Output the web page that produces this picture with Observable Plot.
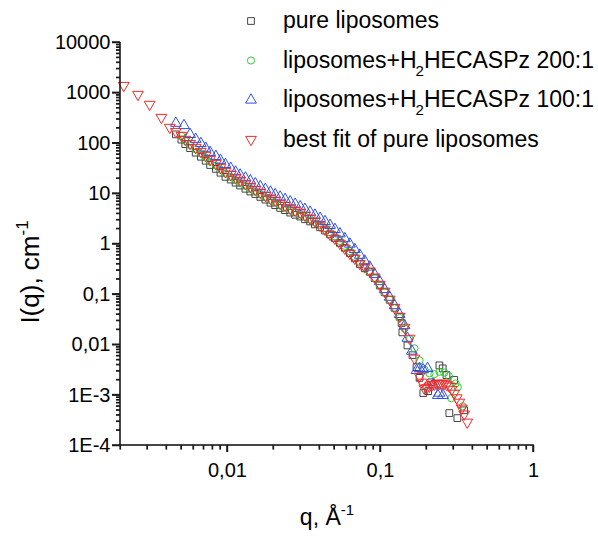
<!DOCTYPE html>
<html><head><meta charset="utf-8">
<script src="https://cdn.jsdelivr.net/npm/d3@7"></script>
<script src="https://cdn.jsdelivr.net/npm/@observablehq/plot@0.6"></script>
<style>body{margin:0;background:#fff;}</style>
</head><body><div id="chart"></div>
<script>
// ---- data ----
const pureQ = [0.0046,0.0050,0.0053,0.0057,0.0062,0.0067,0.0072,0.0077,0.0084,0.0090,0.0097,0.0105,0.0113,0.0121,0.0131,0.0141,0.0152,0.0164,0.0177,0.0191,0.0205,0.0221,0.0238,0.0257,0.0277,0.0299,0.0321,0.0347,0.0373,0.0403,0.0434,0.0468,0.0504,0.0543,0.0585,0.0631,0.0679,0.0733,0.0789,0.0851,0.0916,0.0989,0.1064,0.1148,0.1236,0.1334,0.1374,0.1390,0.1500,0.1620,0.1720,0.1800,0.1905,0.2050,0.2150,0.2427,0.2550,0.2700,0.2818,0.3034,0.3180,0.3524];
const pureI = [150,118,96,80,65,54,45,37,31,26,21.5,19,16.5,14.5,12.5,11,9.8,8.6,7.6,6.6,5.9,5.2,4.7,4.2,3.8,3.5,3.1,2.8,2.45,2.15,1.85,1.55,1.3,1.05,0.84,0.66,0.52,0.40,0.33,0.28,0.21,0.15,0.11,0.078,0.054,0.036,0.027,0.0176,0.0097,0.0062,0.0036,0.0022,0.0011,0.0012,0.0018,0.0039,0.0034,0.0025,0.00044,0.0020,0.00035,0.0005];

const l200Q = [0.0050,0.0053,0.0057,0.0062,0.0067,0.0072,0.0077,0.0084,0.0090,0.0097,0.0105,0.0113,0.0121,0.0131,0.0141,0.0152,0.0164,0.0177,0.0191,0.0205,0.0221,0.0238,0.0257,0.0277,0.0299,0.0321,0.0347,0.0373,0.0403,0.0434,0.0468,0.0504,0.0543,0.0585,0.0631,0.0679,0.0733,0.0789,0.0851,0.0916,0.0989,0.1064,0.1148,0.1236,0.1334,0.1436,0.1549,0.1667,0.1800,0.1940,0.2090,0.2250,0.2430,0.2612,0.2800,0.2900,0.3100,0.3200,0.3450];
const l200I = [140,112,92,76,63,52,43,36,30,25,21.5,18.5,16.2,14.2,12.5,11,9.7,8.5,7.5,6.7,5.9,5.3,4.75,4.3,3.9,3.5,3.1,2.75,2.4,2.05,1.7,1.42,1.15,0.92,0.72,0.56,0.44,0.35,0.28,0.21,0.155,0.11,0.078,0.053,0.034,0.021,0.013,0.0085,0.0049,0.0032,0.0027,0.0026,0.0029,0.0028,0.0024,0.00087,0.0017,0.00143,0.0006];

const l100Q = [0.0046,0.0052,0.0057,0.0062,0.0067,0.0072,0.0077,0.0084,0.0090,0.0097,0.0105,0.0113,0.0121,0.0131,0.0141,0.0152,0.0164,0.0177,0.0191,0.0205,0.0221,0.0238,0.0257,0.0277,0.0299,0.0321,0.0347,0.0373,0.0403,0.0434,0.0468,0.0504,0.0543,0.0585,0.0631,0.0679,0.0733,0.0789,0.0851,0.0916,0.0989,0.1064,0.1148,0.1236,0.1334,0.1436,0.1500,0.1605,0.1720,0.1800,0.1900,0.2030,0.2200,0.2370,0.2427,0.2560];
const l100I = [250,225,150,120,99,80,66,55,46,38,32,27,23.5,20.5,18,15.8,13.8,12.2,10.8,9.6,8.6,7.7,6.9,6.2,5.5,4.9,4.3,3.75,3.25,2.8,2.35,1.95,1.6,1.28,1.0,0.78,0.6,0.46,0.35,0.25,0.18,0.125,0.088,0.06,0.04,0.024,0.0135,0.0075,0.0031,0.0034,0.0032,0.0034,0.0016,0.00099,0.0011,0.00099];

const fitQ = [0.0021,0.0026,0.0031,0.0037,0.0042,0.0046,0.0050,0.0053,0.0057,0.0062,0.0067,0.0072,0.0077,0.0084,0.0090,0.0097,0.0105,0.0113,0.0121,0.0131,0.0141,0.0152,0.0164,0.0177,0.0191,0.0205,0.0221,0.0238,0.0257,0.0277,0.0299,0.0321,0.0347,0.0373,0.0403,0.0434,0.0468,0.0504,0.0543,0.0585,0.0631,0.0679,0.0733,0.0789,0.0851,0.0916,0.0989,0.1064,0.1148,0.1236,0.1334,0.1436,0.1549,0.1667,0.1799,0.1870,0.1936,0.2010,0.2089,0.2170,0.2249,0.2340,0.2427,0.2520,0.2612,0.2710,0.2818,0.2920,0.3034,0.3150,0.3273,0.3400,0.3524,0.3690];
const fitI = [1400,930,590,325,206,171,143,119,99,82.6,68.7,57.3,47.7,39.7,33.1,27.5,24.0,20.9,18.3,15.9,13.9,12.1,10.6,9.2,8.03,7.33,6.4,5.83,5.08,4.64,4.24,3.69,3.22,2.81,2.34,1.95,1.55,1.29,1.03,0.82,0.65,0.52,0.41,0.35,0.29,0.22,0.158,0.115,0.080,0.055,0.0366,0.0221,0.0134,0.0054,0.00236,0.0018,0.00136,0.0014,0.0015,0.0016,0.00164,0.0017,0.00171,0.00172,0.00171,0.0016,0.0015,0.0013,0.00109,0.00088,0.00072,0.00055,0.00042,0.00029];

const seriesNames = ["pure liposomes","liposomes+H2HECASPz 200:1","liposomes+H2HECASPz 100:1","best fit of pure liposomes"];
const yTicks = [1e4,1e3,100,10,1,0.1,0.01,1e-3,1e-4];
const yTickLabels = ["10000","1000","100","10","1","0,1","0,01","1E-3","1E-4"];
const xTicks = [0.01,0.1,1];
const xTickLabels = ["0,01","0,1","1"];

// ---- build ----
const toRows = (qs, is) => qs.map((q, i) => ({q, I: is[i]}));
const pure = toRows(pureQ, pureI);
const l200 = toRows(l200Q, l200I);
const l100 = toRows(l100Q, l100I);
const fit = toRows(fitQ, fitI);

const colors = ["#444444", "#33cc33", "#2f4ee6", "#f02a2a"];
const ink = "#1a1a1a";
const yLab = new Map(yTicks.map((t, i) => [t, yTickLabels[i]]));
const xLab = new Map(xTicks.map((t, i) => [t, xTickLabels[i]]));

const minor = (lo, hi) => {
  const out = [];
  for (let e = lo; e < hi; e++) for (let k = 2; k <= 9; k++) out.push(k * Math.pow(10, e));
  return out;
};
const yMinor = minor(-4, 4);
const xMinor = minor(-3, 0).filter(v => v >= 0.002);
const xMin = 0.002, xMax = 1, yMin = 1e-4, yMax = 1e4;

const font = "'Liberation Sans', Arial, sans-serif";

const chart = Plot.plot({
  width: 598, height: 541,
  marginLeft: 120, marginRight: 65, marginTop: 42, marginBottom: 96,
  x: {type: "log", domain: [xMin, xMax]},
  y: {type: "log", domain: [yMin, yMax]},
  marks: [
    Plot.axisY(yMinor, {tickSize: 4, tickFormat: () => "", label: null, stroke: ink, strokeWidth: 1.2}),
    Plot.axisY(yTicks, {tickSize: 8, tickPadding: 2, tickFormat: d => yLab.get(d), label: null, stroke: ink, strokeWidth: 1.5, fontSize: 20, fontFamily: font, fill: "black"}),
    Plot.axisX(xMinor, {tickSize: 4.5, tickFormat: () => "", label: null, stroke: ink, strokeWidth: 1.2}),
    Plot.axisX(xTicks, {tickSize: 7, tickPadding: 10, tickFormat: d => xLab.get(d), label: null, stroke: ink, strokeWidth: 1.5, fontSize: 20, fontFamily: font, fill: "black"}),
    Plot.dot(pure, {x: "q", y: "I", symbol: "square", r: 3.8, stroke: colors[0], fill: "none", strokeWidth: 1}),
    Plot.dot(l200, {x: "q", y: "I", symbol: "circle", r: 3.6, stroke: colors[1], fill: "none", strokeWidth: 1}),
    Plot.dot(l100, {x: "q", y: "I", symbol: "triangle", r: 4, stroke: colors[2], fill: "none", strokeWidth: 1}),
    Plot.dot(fit, {x: "q", y: "I", symbol: "triangle", rotate: 180, r: 4, stroke: colors[3], fill: "none", strokeWidth: 1})
  ]
});

document.getElementById("chart").appendChild(chart);

// ---- axis lines & ticks as filled rects placed through the plot's own scales ----
const svg = d3.select(chart);
const sx = chart.scale("x"), sy = chart.scale("y");
const X0 = sx.apply(xMin), X1 = sx.apply(xMax), Y0 = sy.apply(yMin), Y1 = sy.apply(yMax);
const axG = svg.append("g").attr("fill", ink).attr("stroke", "none");
const bar = (x, y, w, h) => axG.append("rect").attr("x", x).attr("y", y).attr("width", w).attr("height", h);
bar(X0 - 0.8, Y1, 1.6, Y0 - Y1 + 0.8);
bar(X0 - 0.8, Y0 - 0.8, X1 - X0 + 1.6, 1.6);
yTicks.forEach(t => bar(X0 - 8, sy.apply(t) - 0.75, 8, 1.5));
yMinor.forEach(t => bar(X0 - 4, sy.apply(t) - 0.6, 4, 1.2));
xTicks.forEach(t => bar(sx.apply(t) - 0.75, Y0, 1.5, 7));
xMinor.forEach(t => bar(sx.apply(t) - 0.6, Y0, 1.2, 4.5));

// ---- titles & legend ----
const yt = svg.append("text")
  .attr("transform", "translate(39,272) rotate(-90)")
  .attr("text-anchor", "middle")
  .attr("font-family", font).attr("font-size", 26).attr("fill", "#000");
yt.append("tspan").text("I(q), cm");
yt.append("tspan").attr("dy", -11).attr("font-size", 17).text("-1");

const xt = svg.append("text")
  .attr("x", 327).attr("y", 525)
  .attr("text-anchor", "middle")
  .attr("font-family", font).attr("font-size", 23).attr("fill", "#000");
xt.append("tspan").text("q, Å");
xt.append("tspan").attr("dy", -10).attr("font-size", 15).text("-1");

const symbols = [d3.symbolSquare, d3.symbolCircle, d3.symbolTriangle, d3.symbolTriangle];
const rows = [28, 67.5, 107, 146.5];
const leg = svg.append("g").attr("font-family", font).attr("font-size", 23)
  .attr("fill", "#000").attr("text-anchor", "start");
seriesNames.forEach((name, i) => {
  const r = i === 1 ? 3.6 : (i === 0 ? 3.8 : 4);
  leg.append("path")
    .attr("d", d3.symbol(symbols[i], Math.PI * r * r)())
    .attr("transform", `translate(251,${rows[i] - 7})` + (i === 3 ? " rotate(180)" : ""))
    .attr("fill", "none").attr("stroke", colors[i]).attr("stroke-width", 1);
  const t = leg.append("text").attr("x", 283).attr("y", rows[i]).attr("text-anchor", "start");
  const m = name.match(/^(.*H)2(HECASPz.*)$/);
  if (m) {
    t.append("tspan").text(m[1]);
    t.append("tspan").attr("dy", 8).attr("dx", -1).attr("font-size", 15).text("2");
    t.append("tspan").attr("dy", -8).text(m[2]);
  } else {
    t.text(name);
  }
});
</script>
</body></html>
